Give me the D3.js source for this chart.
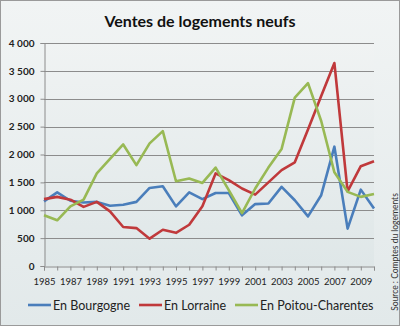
<!DOCTYPE html>
<html>
<head>
<meta charset="utf-8">
<script src="https://cdn.jsdelivr.net/npm/d3@7"></script>
<style>
  html, body { margin: 0; padding: 0; background: #fff; }
  svg { display: block; }
</style>
</head>
<body>
<svg id="chart" width="400" height="326"></svg>
<script>
// New-home sales per region, 1985–2010
const years = d3.range(1985, 2011);
const bourgogne = [1160, 1320, 1170, 1140, 1150, 1080, 1100, 1150, 1400, 1430,
                   1070, 1320, 1200, 1310, 1310, 910, 1110, 1120, 1420, 1180,
                   890, 1270, 2140, 670, 1370, 1030];
const lorraine  = [1200, 1240, 1190, 1060, 1150, 980, 700, 680, 490, 650,
                   595, 740, 1070, 1660, 1540, 1390, 1280, 1500, 1720, 1860,
                   2450, 3050, 3640, 1340, 1790, 1880];
const poitou    = [910, 820, 1070, 1190, 1660, 1920, 2180, 1810, 2200, 2420,
                   1520, 1570, 1490, 1765, 1360, 950, 1390, 1765, 2100, 3020,
                   3280, 2600, 1680, 1330, 1240, 1290];
const seriesNames  = ["En Bourgogne", "En Lorraine", "En Poitou-Charentes"];
const seriesColors = ["#4a7ebb", "#c0393b", "#98b954"];
const yTicks = [0, 500, 1000, 1500, 2000, 2500, 3000, 3500, 4000];
const xLabelYears = d3.range(1985, 2011, 2);

const seriesData = [bourgogne, lorraine, poitou];

const svg = d3.select("#chart");
const W = 400, H = 326;
const margin = { left: 44, right: 26, top: 43, bottom: 60 };

// background
const defs = svg.append("defs");
const bg = defs.append("linearGradient").attr("id", "bg")
  .attr("x1", 0).attr("y1", 0).attr("x2", 0).attr("y2", 1);
bg.append("stop").attr("offset", "0%").attr("stop-color", "#f1f4f4");
bg.append("stop").attr("offset", "100%").attr("stop-color", "#e2e9ea");
const pg = defs.append("linearGradient").attr("id", "pg")
  .attr("x1", 0).attr("y1", 0).attr("x2", 0).attr("y2", 1);
pg.append("stop").attr("offset", "0%").attr("stop-color", "#f0f3f3");
pg.append("stop").attr("offset", "100%").attr("stop-color", "#dfe7e8");

svg.append("rect").attr("x", 0.5).attr("y", 0.5).attr("width", W - 1).attr("height", H - 1)
  .attr("fill", "url(#bg)").attr("stroke", "#9a9a9a").attr("stroke-width", 1);

const x = d3.scaleLinear().domain([1985, 2010]).range([margin.left, W - margin.right]);
const y = d3.scaleLinear().domain([0, 4000]).range([266, 43]);

svg.append("rect").attr("x", x(1985)).attr("y", y(4000))
  .attr("width", x(2010) - x(1985)).attr("height", y(0) - y(4000))
  .attr("fill", "url(#pg)");

// title
svg.append("text").attr("x", 200).attr("y", 27).attr("text-anchor", "middle")
  .attr("font-family", "Lato, 'Open Sans', sans-serif").attr("font-weight", "bold")
  .attr("font-size", 16).attr("fill", "#111").text("Ventes de logements neufs");

// gridlines
svg.append("g").selectAll("line").data(yTicks.filter(d => d > 0)).join("line")
  .attr("x1", x(1985)).attr("x2", x(2010))
  .attr("y1", d => Math.round(y(d)) + 0.5).attr("y2", d => Math.round(y(d)) + 0.5)
  .attr("stroke", "#8c8c8c").attr("stroke-width", 1);

// y axis
const fmt = d => d >= 1000 ? Math.floor(d / 1000) + " " + String(d % 1000).padStart(3, "0") : String(d);
const yAxis = d3.axisLeft(y).tickValues(yTicks).tickFormat(fmt).tickSize(4).tickPadding(6);
const yg = svg.append("g").attr("transform", `translate(${x(1985) + 0.5},0)`).call(yAxis);
yg.select(".domain").attr("stroke", "#8c8c8c");
yg.selectAll(".tick line").attr("stroke", "#8c8c8c");
yg.selectAll(".tick text").attr("font-family", "Lato, 'Open Sans', sans-serif")
  .attr("font-weight", "bold").attr("font-size", 10).attr("fill", "#222");

// x axis
const xAxis = d3.axisBottom(x).tickValues(years).tickSize(4).tickPadding(8)
  .tickFormat(d => xLabelYears.includes(d) ? String(d) : "");
const xg = svg.append("g").attr("transform", `translate(0,${Math.round(y(0)) + 0.5})`).call(xAxis);
xg.select(".domain").attr("stroke", "#8c8c8c");
xg.selectAll(".tick line").attr("stroke", "#8c8c8c");
xg.selectAll(".tick text").attr("font-family", "Lato, 'Open Sans', sans-serif")
  .attr("font-size", 9.5).attr("fill", "#222");

// series lines
const line = d3.line().x((d, i) => x(years[i])).y(d => y(d));
svg.append("g").selectAll("path").data(seriesData).join("path")
  .attr("d", line).attr("fill", "none")
  .attr("stroke", (d, i) => seriesColors[i]).attr("stroke-width", 2.6)
  .attr("stroke-linejoin", "round");

// legend
const legendX = [28, 139, 235];
const lg = svg.append("g").selectAll("g").data(seriesNames).join("g")
  .attr("transform", (d, i) => `translate(${legendX[i]},305)`);
lg.append("line").attr("x1", 0).attr("x2", 23).attr("y1", 0).attr("y2", 0)
  .attr("stroke", (d, i) => seriesColors[i]).attr("stroke-width", 2.6);
lg.append("text").attr("x", 25).attr("y", 4.5)
  .attr("font-family", "Lato, 'Open Sans', sans-serif").attr("font-size", 12.5)
  .attr("fill", "#222").text(d => d);

// source note
svg.append("text").attr("transform", "translate(398,252) rotate(-90)")
  .attr("text-anchor", "middle")
  .attr("font-family", "Lato, 'Open Sans', sans-serif").attr("font-size", 8.5)
  .attr("fill", "#333").text("Source : Comptes du logements");
</script>
</body>
</html>
